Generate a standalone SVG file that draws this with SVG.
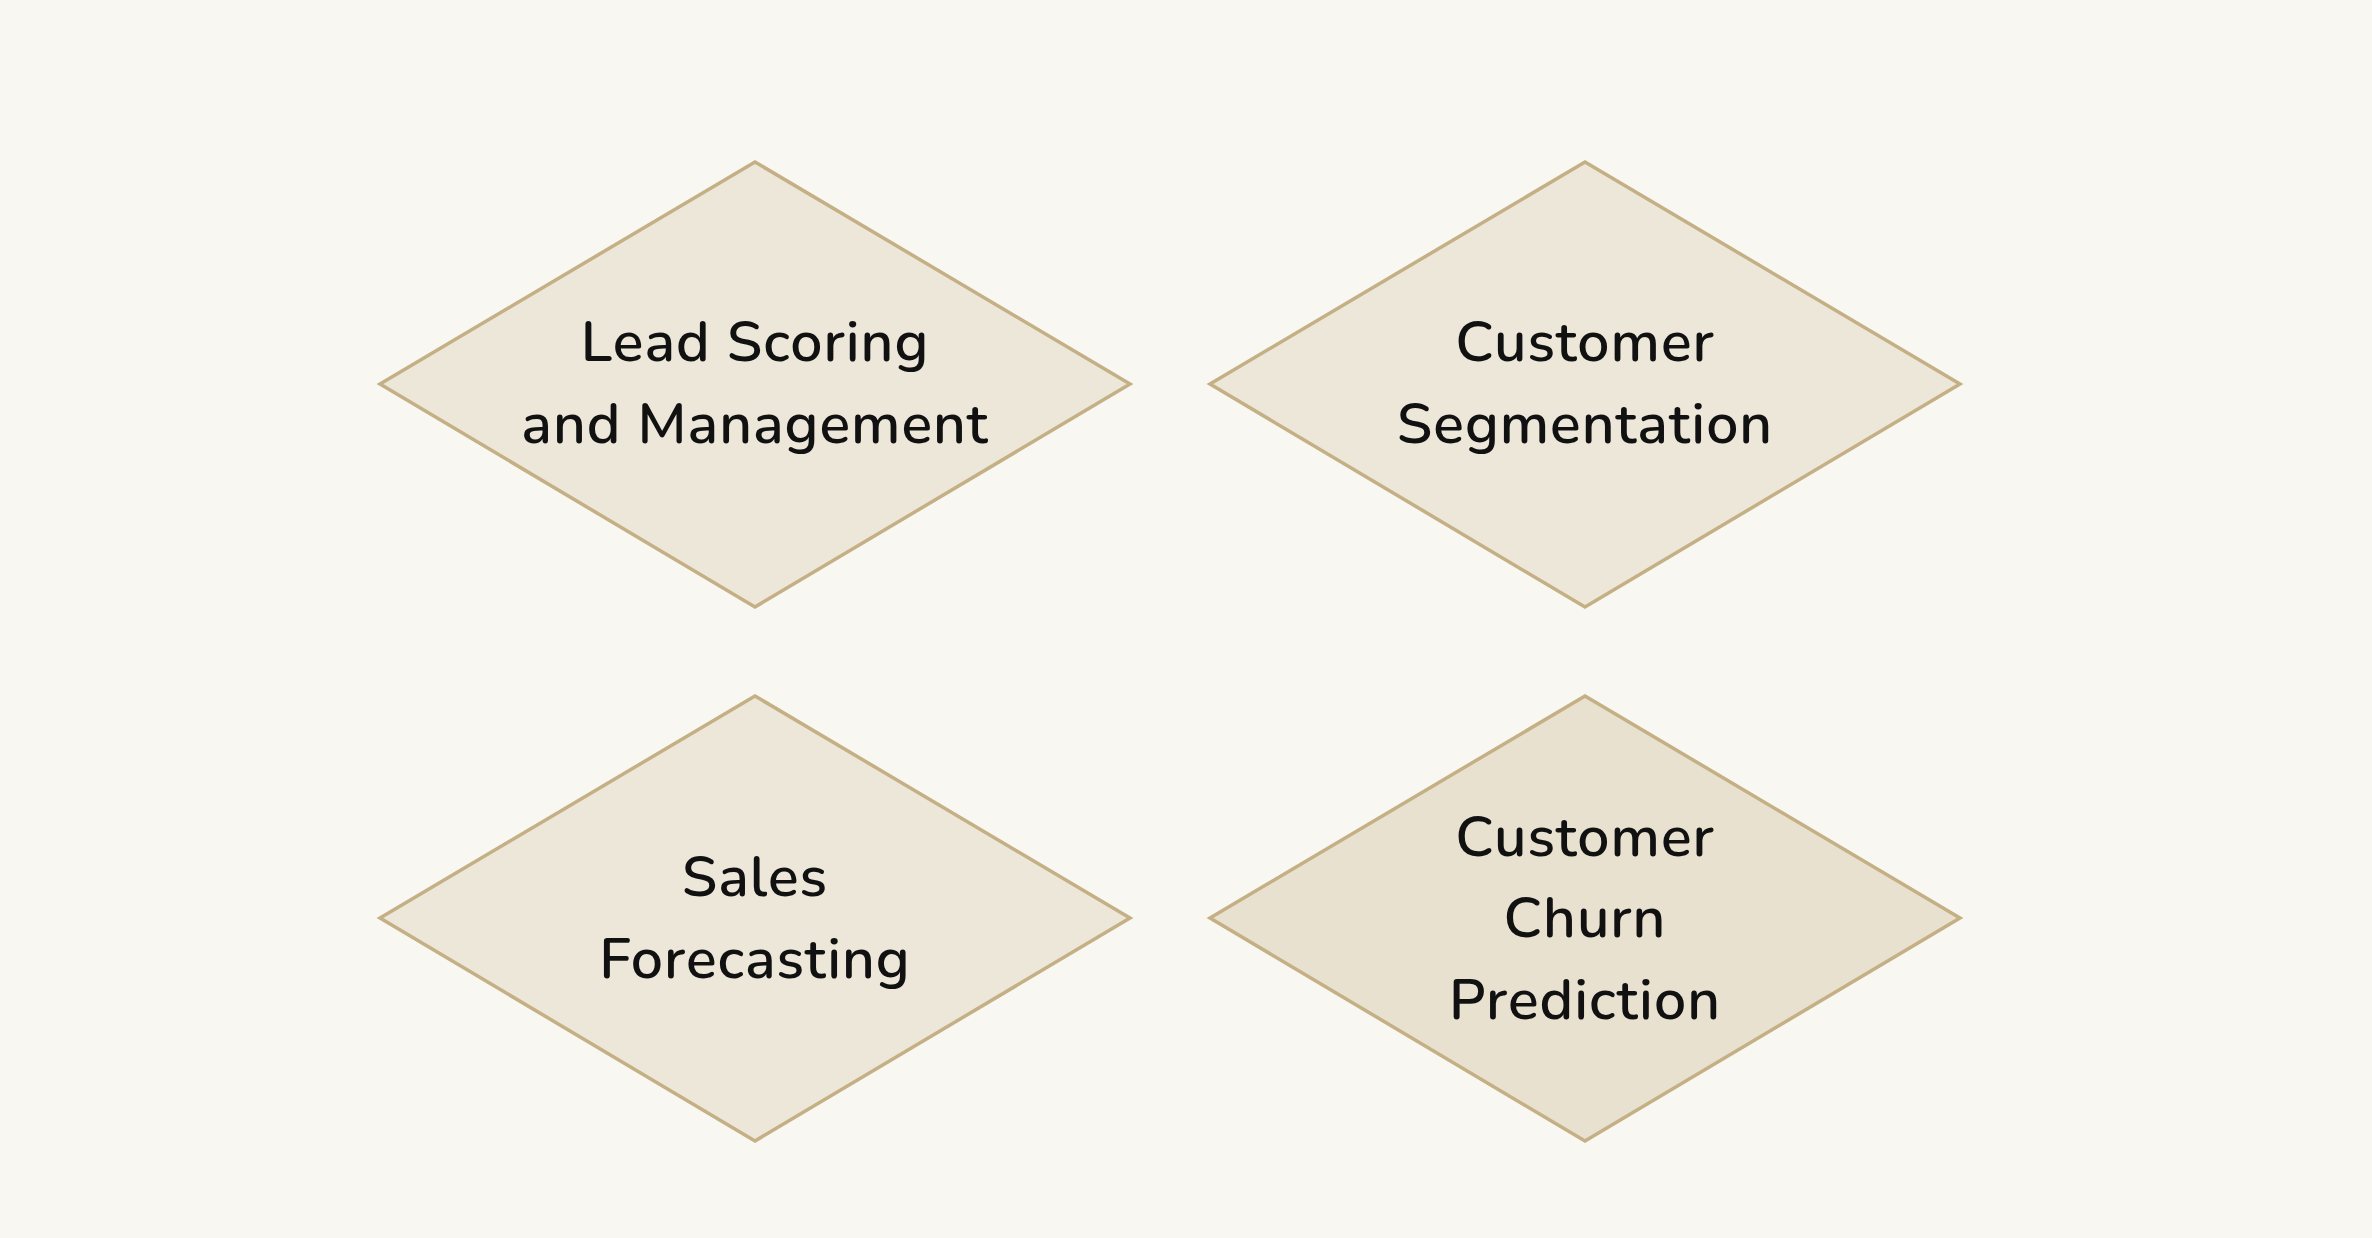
<svg xmlns="http://www.w3.org/2000/svg" width="2372" height="1238" viewBox="0 0 2372 1238">
<style>
.d{fill:#EDE7DA;stroke:#C4B084;stroke-width:3.5}
.d2{fill:#E8E1D0;stroke:#C4B084;stroke-width:3.5}
.t{font-family:"Nunito","Noto Sans","Lato",sans-serif;font-size:57px;font-weight:600;fill:#111;text-anchor:middle;dominant-baseline:central;letter-spacing:1px}
</style>
<rect width="2372" height="1238" fill="#F8F7F2"/>
<g id="connectors"/>
<g id="lead">
<polygon class="d" points="755,162 1130,384 755,607 380,384"/>
<text class="t" x="755" y="342">Lead Scoring</text>
<text class="t" x="755" y="424">and Management</text>
</g>
<g id="segmentation">
<polygon class="d" points="1585,162 1960,384 1585,607 1210,384"/>
<text class="t" x="1585" y="342">Customer</text>
<text class="t" x="1585" y="424">Segmentation</text>
</g>
<g id="forecasting">
<polygon class="d" points="755,696 1130,918 755,1141 380,918"/>
<text class="t" x="755" y="877">Sales</text>
<text class="t" x="755" y="959">Forecasting</text>
</g>
<g id="churn">
<polygon class="d2" points="1585,696 1960,918 1585,1141 1210,918"/>
<text class="t" x="1585" y="837">Customer</text>
<text class="t" x="1585" y="918">Churn</text>
<text class="t" x="1585" y="1000">Prediction</text>
</g>
</svg>
